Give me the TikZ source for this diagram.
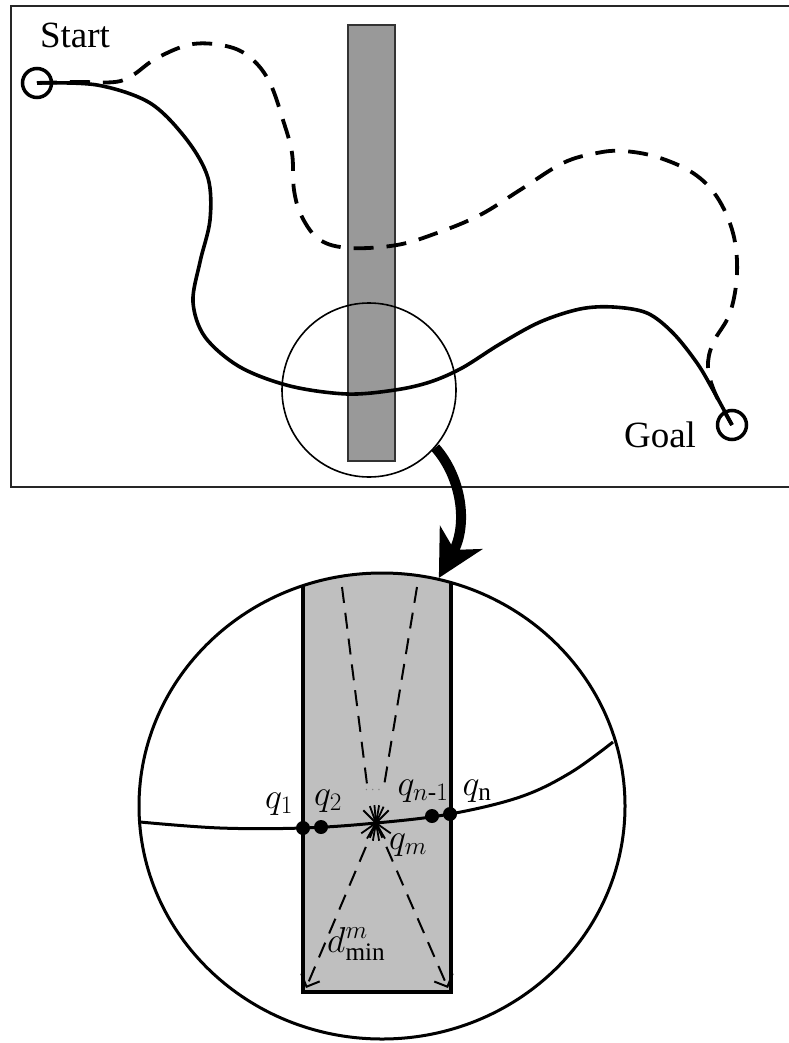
\documentclass[tikz,border=0pt]{standalone}
\usepackage{fix-cm}
\usepackage{amsmath}
\usepackage{fontspec}
\setmainfont{Liberation Serif}
\usetikzlibrary{arrows.meta,shapes.geometric}
\begin{document}
\begin{tikzpicture}[x=1pt,y=-1pt,
  frame/.style={draw=black!85, line width=2pt},
  endpt/.style={circle, draw, line width=3.5pt, minimum size=29pt, inner sep=0pt},
  route/.style={line width=3.6pt},
  dashroute/.style={line width=3.8pt, dash pattern=on 20pt off 13pt},
  pt/.style={circle, fill, inner sep=0pt, minimum size=14pt},
  lbl/.style={font=\fontsize{36}{38}\selectfont, inner sep=0pt},
  word/.style={font=\fontsize{37}{40}\selectfont, inner sep=0pt},
  ray/.style={line width=2pt, dash pattern=on 16pt off 10pt},
]
\useasboundingbox (0,0) rectangle (788,1043);
% top panel
\draw[frame] (11,6) rectangle (800,487);
\draw[fill=black!40, draw=black!80, line width=2pt] (348,25) rectangle (395,461);
\node[circle, draw, line width=1.6pt, minimum size=174pt, inner sep=0pt] (zoomc) at (369,390) {};

\node[endpt] (start) at (37,83) {};
\node[endpt] (goal) at (732,425) {};
\node[word] (startlbl) at (75,35) {Start};
\node[word] (goallbl) at (660,435) {Goal};

\draw[route] plot[smooth, tension=0.55] coordinates {(37,83) (97,85) (150,103) (187,140) (208,178) (210,220) (200,262) (193,302) (205,337) (240,367) (290,386) (347,394) (395,390) (430,382) (462,368) (500,344) (540,322) (580,309) (613,307) (647,313) (673,333) (697,363) (713,390) (732,425)};

\draw[dashroute] plot[smooth, tension=0.6] coordinates {(37,83) (77,82) (115,82) (133,75) (157,58) (193,44) (230,47) (253,60) (270,83) (283,120) (292,153) (294,190) (302,217) (320,240) (350,248) (397,245) (437,233) (480,215) (520,190) (563,163) (597,153) (623,151) (657,157) (693,173) (717,197) (733,233) (737,273) (730,313) (713,343) (708,367) (715,393) (732,425)};

% bottom panel
\begin{scope}
  \clip (382,806) ellipse [x radius=243pt, y radius=233pt];
  \fill[black!25] (303,550) rectangle (451,992);
  \draw[line width=3.5pt] (303,550) -- (303,992) -- (451,992) -- (451,550);
\end{scope}
\node[ellipse, draw, line width=3pt, minimum width=486pt, minimum height=466pt, inner sep=0pt] (big) at (382,806) {};

\draw[line width=10pt, -{Stealth[length=46pt,width=48pt,inset=14pt]}] (zoomc.-41) .. controls (462,478) and (468,525) .. (big.76);

\draw[line width=3pt] plot[smooth, tension=0.6] coordinates {(140,822) (220,828) (303,828) (376,823) (450,814) (520,797) (570,773) (613,742)};

\coordinate (qm) at (376,823);
\coordinate (tl) at (342,587);
\coordinate (tr) at (417,587);
\coordinate (tle) at (368,792);
\coordinate (tre) at (383,792);
\coordinate (bl) at (306,988);
\coordinate (br) at (448,988);
\draw[ray] (tl) -- (tle);
\draw[ray] (tr) -- (tre);
\draw[ray, -{Straight Barb[length=10pt,width=20pt]}] (qm) -- (bl);
\draw[ray, -{Straight Barb[length=10pt,width=20pt]}] (qm) -- (br);
\foreach \a in {45,65,80,95,110,135,215,240,260,280,300,325}
  \draw[line width=1.8pt] (qm) -- ++(\a:18pt);
\node[font=\fontsize{14}{14}\selectfont, text=black!50, inner sep=0pt] (dots) at (374,790) {$\cdots$};

\node[pt] (q1) at (303,828) {};
\node[pt] (q2) at (321,827) {};
\node[pt] (qn1) at (432,816) {};
\node[pt] (qn) at (450,814) {};

\node[lbl] (lq1) at (279,804) {$q_1$};
\node[lbl] (lq2) at (328,801) {$q_2$};
\node[lbl] (lqn1) at (423,791) {$q_{n\textrm{-}1}$};
\node[lbl] (lqn) at (477,791) {$q_{\mathrm{n}}$};
\node[lbl] (lqm) at (408,845) {$q_m$};
\node[lbl, anchor=west] (ld) at (327,944) {$d^{m}_{\mathrm{min}}$};
\end{tikzpicture}
\end{document}
